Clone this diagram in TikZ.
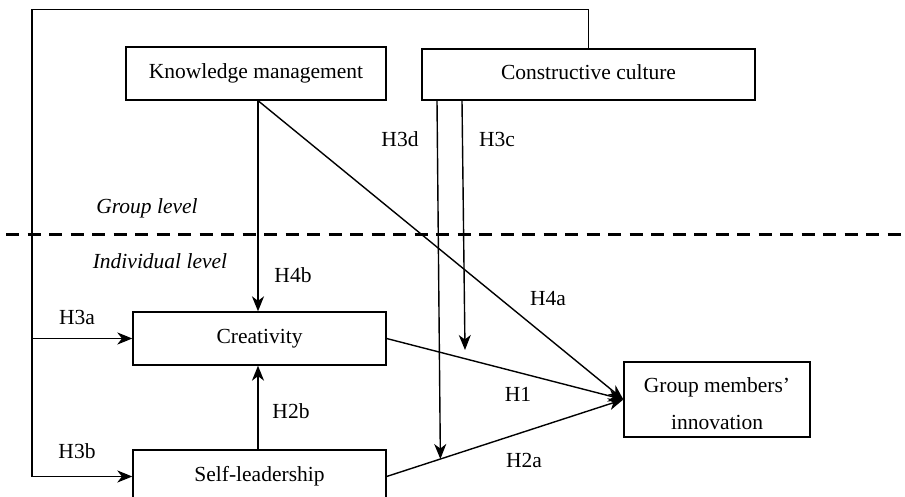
\documentclass[tikz,border=0pt]{standalone}
\usepackage{fontspec}
\setmainfont{Liberation Serif}
\usetikzlibrary{arrows.meta,calc}
\begin{document}
\begin{tikzpicture}[x=1pt,y=-1pt,
  every node/.style={font=\fontsize{21.5}{26}\selectfont, inner sep=0pt},
  varbox/.style={draw, line width=1.3pt, rectangle, text height=15pt, text depth=4.7pt},
  tip/.style={-{Stealth[length=15pt,width=12pt,inset=4.5pt]}},
  link/.style={line width=1.4pt, tip},
  feedback/.style={line width=1.9pt, tip},
  hyp/.style={anchor=base},
  level/.style={anchor=base, font=\fontsize{21.5}{26}\selectfont\itshape}]
\useasboundingbox (0,0) rectangle (905,497);

% variables
\node[varbox, minimum width=260pt, minimum height=53pt] (km) at (256,73.5) {Knowledge management};
\node[varbox, minimum width=333pt, minimum height=51pt] (cc) at (588.5,74.5) {Constructive culture};
\node[varbox, minimum width=253pt, minimum height=53pt] (cr) at (259.5,338.5) {Creativity};
\node[varbox, minimum width=253pt, minimum height=53pt] (sl) at (259.5,476.5) {Self-leadership};
\node[draw, line width=1.3pt, rectangle, minimum width=186pt, minimum height=75pt] (gi) at (717,399.5) {};
\node[anchor=base] (gi1) at (717,392) {Group members’};
\node[anchor=base] (gi2) at (717,429) {innovation};

% group / individual boundary
\draw[line width=3pt, dash pattern=on 13pt off 8.5pt] (6,235) -- (905,235);
\node[level] (glev) at (147,214) {Group level};
\node[level] (ilev) at (160,269) {Individual level};

% anchor points on the box edges
\coordinate (kmout) at (km.south -| 258,0);
\coordinate (cc3d) at (cc.south -| 437,0);
\coordinate (cc3c) at (cc.south -| 462,0);
\coordinate (fbtl) at (32,9.5);
\coordinate (h3dend) at ($(sl.east)!0.227!(gi.west)$);
\coordinate (h3cend) at (465,350);

% cross-level feedback path from constructive culture
\draw[feedback] (cc.north) |- (fbtl) |- (sl.west);
\draw[feedback] (fbtl |- cr.west) -- (cr.west);

% direct effects
\draw[link] (kmout) -- (kmout |- cr.north);
\draw[link] (kmout) -- (gi.west);
\draw[link] (cr.east) -- (gi.west);
\draw[link] (sl.east) -- (gi.west);
\draw[link] (sl.north -| kmout) -- (cr.south -| kmout);

% moderating effects
\draw[link] (cc3d) -- (h3dend);
\draw[link] (cc3c) -- (h3cend);

% hypothesis labels
\node[hyp] (l3d) at (400,147) {H3d};
\node[hyp] (l3c) at (497,147) {H3c};
\node[hyp] (l4b) at (293,283) {H4b};
\node[hyp] (l3a) at (77,324) {H3a};
\node[hyp] (l4a) at (548,305) {H4a};
\node[hyp] (l1)  at (518,401) {H1};
\node[hyp] (l2b) at (291,418) {H2b};
\node[hyp] (l3b) at (77,458) {H3b};
\node[hyp] (l2a) at (524,467) {H2a};
\end{tikzpicture}
\end{document}
